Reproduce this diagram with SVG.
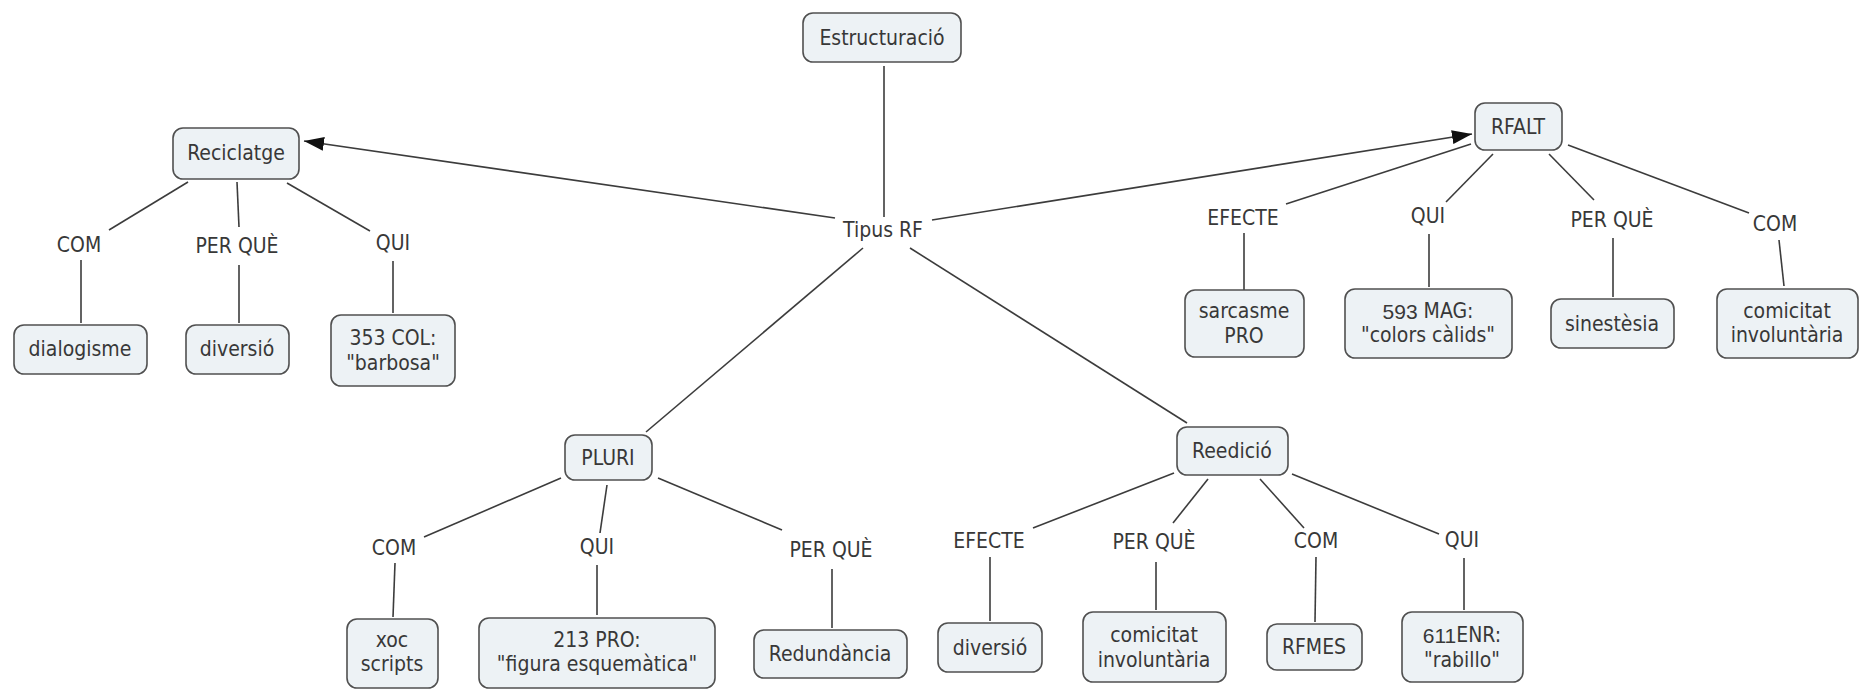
<svg xmlns="http://www.w3.org/2000/svg" width="1859" height="691" viewBox="0 0 1859 691">
  <defs>
    <marker id="arrow" markerUnits="userSpaceOnUse" markerWidth="20" markerHeight="14" viewBox="0 0 20 14" refX="20" refY="7" orient="auto">
      <path d="M0,0 L20,7 L0,14 Z" fill="#111"/>
    </marker>
    <style>
      .box { fill: #edf2f5; stroke: #505050; stroke-width: 1.6; }
      .t { font-family: "DejaVu Sans Condensed", "DejaVu Sans", sans-serif; font-size: 21px; fill: #383838; text-anchor: middle; dominant-baseline: central; }
      .num { font-family: "Liberation Sans", sans-serif; }
      .link { stroke: #3c3c3c; stroke-width: 1.6; fill: none; }
    </style>
  </defs>
  <rect width="1859" height="691" fill="#ffffff"/>

  <!-- connectors -->
  <g id="connectors" class="link">
    <line x1="884" y1="66" x2="884" y2="217"/>
    <line x1="835" y1="218" x2="304" y2="141" marker-end="url(#arrow)"/>
    <line x1="932" y1="220" x2="1472" y2="134" marker-end="url(#arrow)"/>
    <line x1="863" y1="248" x2="646" y2="432"/>
    <line x1="910" y1="248" x2="1187" y2="423"/>

    <line x1="188" y1="182" x2="109" y2="230"/>
    <line x1="81" y1="260" x2="81" y2="323"/>
    <line x1="237" y1="182" x2="239" y2="227"/>
    <line x1="239" y1="265" x2="239" y2="323"/>
    <line x1="287" y1="183" x2="370" y2="231"/>
    <line x1="393" y1="261" x2="393" y2="313"/>

    <line x1="1471" y1="144" x2="1286" y2="204"/>
    <line x1="1244" y1="233" x2="1244" y2="290"/>
    <line x1="1493" y1="154" x2="1446" y2="202"/>
    <line x1="1429" y1="234" x2="1429" y2="287"/>
    <line x1="1549" y1="154" x2="1594" y2="200"/>
    <line x1="1613" y1="238" x2="1613" y2="297"/>
    <line x1="1568" y1="145" x2="1749" y2="213"/>
    <line x1="1779" y1="240" x2="1784" y2="286"/>

    <line x1="561" y1="478" x2="424" y2="537"/>
    <line x1="395" y1="563" x2="393" y2="617"/>
    <line x1="607" y1="485" x2="600" y2="533"/>
    <line x1="597" y1="565" x2="597" y2="615"/>
    <line x1="658" y1="478" x2="782" y2="530"/>
    <line x1="832" y1="569" x2="832" y2="628"/>

    <line x1="1174" y1="473" x2="1033" y2="528"/>
    <line x1="990" y1="557" x2="990" y2="621"/>
    <line x1="1208" y1="479" x2="1173" y2="523"/>
    <line x1="1156" y1="562" x2="1156" y2="610"/>
    <line x1="1260" y1="479" x2="1304" y2="528"/>
    <line x1="1316" y1="557" x2="1315" y2="622"/>
    <line x1="1292" y1="474" x2="1439" y2="534"/>
    <line x1="1464" y1="558" x2="1464" y2="610"/>
  </g>

  <!-- linking phrases -->
  <g id="link-tipus"><text class="t" x="883" y="230">Tipus RF</text></g>
  <g id="link-rec-com"><text class="t" x="79" y="245">COM</text></g>
  <g id="link-rec-perque"><text class="t" x="237" y="246">PER QUÈ</text></g>
  <g id="link-rec-qui"><text class="t" x="393" y="243">QUI</text></g>
  <g id="link-alt-efecte"><text class="t" x="1243" y="218">EFECTE</text></g>
  <g id="link-alt-qui"><text class="t" x="1428" y="216">QUI</text></g>
  <g id="link-alt-perque"><text class="t" x="1612" y="220">PER QUÈ</text></g>
  <g id="link-alt-com"><text class="t" x="1775" y="224">COM</text></g>
  <g id="link-pluri-com"><text class="t" x="394" y="548">COM</text></g>
  <g id="link-pluri-qui"><text class="t" x="597" y="547">QUI</text></g>
  <g id="link-pluri-perque"><text class="t" x="831" y="550">PER QUÈ</text></g>
  <g id="link-reed-efecte"><text class="t" x="989" y="541">EFECTE</text></g>
  <g id="link-reed-perque"><text class="t" x="1154" y="542">PER QUÈ</text></g>
  <g id="link-reed-com"><text class="t" x="1316" y="541">COM</text></g>
  <g id="link-reed-qui"><text class="t" x="1462" y="540">QUI</text></g>

  <!-- concepts -->
  <g id="estructuracio">
    <rect class="box" x="803" y="13" width="158" height="49" rx="10"/>
    <text class="t" x="882" y="38">Estructuració</text>
  </g>
  <g id="reciclatge">
    <rect class="box" x="173" y="128" width="126" height="51" rx="10"/>
    <text class="t" x="236" y="153">Reciclatge</text>
  </g>
  <g id="rfalt">
    <rect class="box" x="1475" y="103" width="87" height="47" rx="10"/>
    <text class="t" x="1518" y="127">RFALT</text>
  </g>
  <g id="dialogisme">
    <rect class="box" x="14" y="325" width="133" height="49" rx="10"/>
    <text class="t" x="80" y="349">dialogisme</text>
  </g>
  <g id="diversio-1">
    <rect class="box" x="186" y="325" width="103" height="49" rx="10"/>
    <text class="t" x="237" y="349">diversió</text>
  </g>
  <g id="col-353">
    <rect class="box" x="331" y="315" width="124" height="71" rx="10"/>
    <text class="t" x="393" y="338">353 COL:</text>
    <text class="t" x="393" y="363">"barbosa"</text>
  </g>
  <g id="sarcasme">
    <rect class="box" x="1185" y="290" width="119" height="67" rx="10"/>
    <text class="t" x="1244" y="311">sarcasme</text>
    <text class="t" x="1244" y="336">PRO</text>
  </g>
  <g id="mag-593">
    <rect class="box" x="1345" y="289" width="167" height="69" rx="10"/>
    <text class="t" x="1428" y="311"><tspan class="num">593</tspan> MAG:</text>
    <text class="t" x="1428" y="335">"colors càlids"</text>
  </g>
  <g id="sinestesia">
    <rect class="box" x="1551" y="299" width="123" height="49" rx="10"/>
    <text class="t" x="1612" y="324">sinestèsia</text>
  </g>
  <g id="comicitat-1">
    <rect class="box" x="1717" y="289" width="141" height="69" rx="10"/>
    <text class="t" x="1787" y="311">comicitat</text>
    <text class="t" x="1787" y="335">involuntària</text>
  </g>
  <g id="pluri">
    <rect class="box" x="565" y="435" width="87" height="45" rx="10"/>
    <text class="t" x="608" y="458">PLURI</text>
  </g>
  <g id="reedicio">
    <rect class="box" x="1177" y="427" width="111" height="48" rx="10"/>
    <text class="t" x="1232" y="451">Reedició</text>
  </g>
  <g id="xoc-scripts">
    <rect class="box" x="347" y="619" width="91" height="69" rx="10"/>
    <text class="t" x="392" y="640">xoc</text>
    <text class="t" x="392" y="664">scripts</text>
  </g>
  <g id="pro-213">
    <rect class="box" x="479" y="618" width="236" height="70" rx="10"/>
    <text class="t" x="597" y="640">213 PRO:</text>
    <text class="t" x="597" y="664">"figura esquemàtica"</text>
  </g>
  <g id="redundancia">
    <rect class="box" x="754" y="630" width="153" height="48" rx="10"/>
    <text class="t" x="830" y="654">Redundància</text>
  </g>
  <g id="diversio-2">
    <rect class="box" x="938" y="623" width="104" height="49" rx="10"/>
    <text class="t" x="990" y="648">diversió</text>
  </g>
  <g id="comicitat-2">
    <rect class="box" x="1083" y="612" width="143" height="70" rx="10"/>
    <text class="t" x="1154" y="635">comicitat</text>
    <text class="t" x="1154" y="660">involuntària</text>
  </g>
  <g id="rfmes">
    <rect class="box" x="1267" y="624" width="95" height="46" rx="10"/>
    <text class="t" x="1314" y="647">RFMES</text>
  </g>
  <g id="enr-611">
    <rect class="box" x="1402" y="612" width="121" height="70" rx="10"/>
    <text class="t" x="1462" y="635"><tspan class="num">611</tspan>ENR:</text>
    <text class="t" x="1462" y="660">"rabillo"</text>
  </g>
</svg>
